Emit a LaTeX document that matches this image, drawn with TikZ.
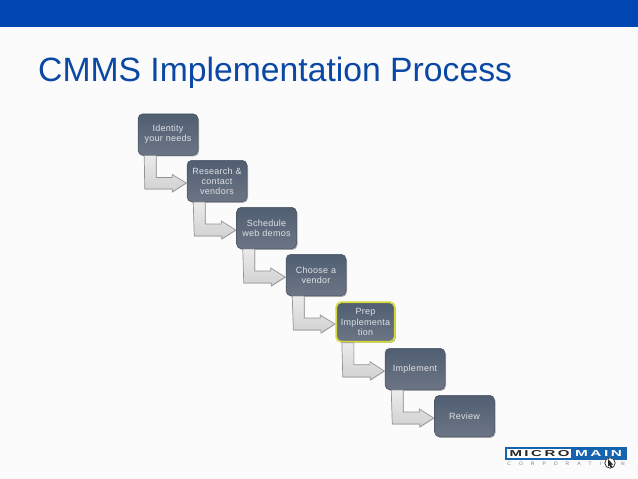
\documentclass[tikz,border=0pt]{standalone}
\usepackage{fontspec}
\usepackage{graphicx}
\setmainfont{Liberation Sans}
\usetikzlibrary{shadows,calc}
\definecolor{barblue}{HTML}{0047B4}
\definecolor{titleblue}{HTML}{0B48A5}
\definecolor{boxtop}{HTML}{505E72}
\definecolor{boxbot}{HTML}{6C7585}
\definecolor{boxedge}{HTML}{46505E}
\definecolor{stepyellow}{HTML}{D5D93A}
\definecolor{logoblue}{HTML}{1663B0}
\tikzset{
  x=1pt,y=-1pt,
  stepbox/.style={rectangle,rounded corners=5pt,minimum width=60pt,minimum height=41.5pt,inner sep=0pt,
    top color=boxtop,bottom color=boxbot,draw=boxedge,line width=.5pt,
    text=white!82!boxtop,align=center,text width=58pt,
    font=\fontsize{9}{10.2}\selectfont\addfontfeatures{LetterSpace=3},
    drop shadow={shadow xshift=1pt,shadow yshift=-1.2pt,opacity=.3,fill=black}},
  activebox/.style={stepbox,draw=stepyellow,line width=1.8pt,minimum width=58.5pt,minimum height=39.5pt},
  bentarrow/.style={draw=black!42,line width=.7pt,line join=miter,top color=black!8,bottom color=black!18,
    drop shadow={shadow xshift=.6pt,shadow yshift=-.6pt,opacity=.15,fill=black}},
  logotext/.style={inner sep=0pt,font=\bfseries},
}
\newcommand{\bentlink}[2]{%
  \path[bentarrow] ($(#1.south west)+(6.5,0)$) -- ++(12,0) -- ++(0,22) -- ++(16,0) -- ++(0,-3)
    -- ($(#2.west)+(-.5,2)$) -- ++(-14,9) -- ++(0,-3) -- ++(-27.5,0) -- cycle;}
\begin{document}
\begin{tikzpicture}
\useasboundingbox (0,0) rectangle (638,479);
\fill[white!98.5!black] (0,0) rectangle (638,479);
\fill[barblue] (0,0) rectangle (638,27);
\node[anchor=west,inner sep=0pt,text=titleblue,font=\fontsize{33.7}{38}\selectfont] (title) at (38,72.5) {CMMS Implementation Process};
% boxes
\node[stepbox] (s1) at (168,134.5) {Identity\\your needs};
\node[stepbox] (s2) at (217,181) {Research \&\\contact\\vendors};
\node[stepbox] (s3) at (266.5,228) {Schedule\\web demos};
\node[stepbox] (s4) at (316,275) {Choose a\\vendor};
\node[stepbox] (s6) at (415,369) {Implement};
\node[stepbox] (s7) at (464.5,416) {Review};
\node[activebox] (s5) at (365.5,322) {Prep\\Implementa\\tion};
% connectors
\bentlink{s1}{s2}
\bentlink{s2}{s3}
\bentlink{s3}{s4}
\bentlink{s4}{s5}
\bentlink{s5}{s6}
\bentlink{s6}{s7}
% logo
\fill[logoblue] (505,447) rectangle (627,459.5);
\fill[white] (506.5,448.5) rectangle (571,458);
\node[logotext,text=black!85] (micro) at (539.5,453.3) {\resizebox{60pt}{6pt}{M\,I\,C\,R\,O}};
\node[logotext,text=white] (main) at (598.5,453.3) {\resizebox{47pt}{6pt}{M\,A\,I\,N}};
\node[inner sep=0pt,text=black!50,font=\fontsize{5}{6}\selectfont] (corp) at (566,463.5) {C\hspace{8pt}O\hspace{8pt}R\hspace{8pt}P\hspace{8pt}O\hspace{8pt}R\hspace{8pt}A\hspace{8pt}T\hspace{8pt}I\hspace{8pt}O\hspace{8pt}N};
% cursor
\fill[white] (610,463) circle (5.5);
\draw[black!85,line width=.7pt] (610,463) circle (5.2);
\fill[black!85] (608,459) -- (613,464.5) -- (611,464.5) -- (612.5,467.5) -- (610.5,467.5) -- (609.5,465) -- (608,466.5) -- cycle;
\end{tikzpicture}
\end{document}
